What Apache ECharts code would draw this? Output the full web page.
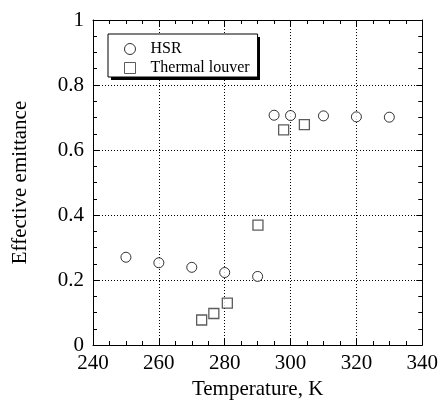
<!DOCTYPE html>
<html>
<head>
<meta charset="utf-8">
<script src="https://cdn.jsdelivr.net/npm/echarts@6/dist/echarts.min.js"></script>
<style>
	html, body { margin: 0; padding: 0; background: #fff; }
	#chart { width: 441px; height: 405px; }
</style>
</head>
<body>
<div id="chart"></div>
<script>
// data
const hsrTemp = [250, 260, 270, 280, 290, 295, 300, 310, 320, 330]
const hsrEmit = [0.270, 0.253, 0.239, 0.223, 0.211, 0.707, 0.706, 0.705, 0.702, 0.701]
const louverTemp = [273, 276.7, 280.8, 290.1, 297.9, 304.2]
const louverEmit = [0.077, 0.097, 0.129, 0.369, 0.662, 0.678]

const font = 'Liberation Serif'
const pair = (xs, ys) => xs.map((x, i) => [x, ys[i]])

const chart = echarts.init(document.getElementById('chart'))

// shared axis look (box with inward ticks on all sides)
const tickStyle = {
	axisLine: { show: true, onZero: false, lineStyle: { color: '#000', width: 1 } },
	axisTick: { show: true, inside: true, length: 6, lineStyle: { color: '#000' } },
	minorTick: { show: true, splitNumber: 4, length: 4, lineStyle: { color: '#000' } },
}

const option = {
	backgroundColor: '#fff',
	animation: false,
	grid: { left: 93, right: 18, top: 20, bottom: 58 },
	// drop shadow behind the legend box
	graphic: [
		{
			type: 'rect',
			left: 111,
			top: 37,
			shape: { width: 149, height: 43 },
			style: { fill: '#000' },
			z: 3,
		},
	],
	legend: {
		orient: 'vertical',
		left: 108,
		top: 34,
		padding: [7, 8, 1, 16],
		itemWidth: 11,
		itemHeight: 11,
		itemGap: 3,
		backgroundColor: '#fff',
		borderColor: '#000',
		borderWidth: 1,
		z: 5,
		itemStyle: { borderWidth: 1 },
		textStyle: { fontFamily: font, fontSize: 16, lineHeight: 16, color: '#000', padding: [0, 0, 0, 10] },
		data: ['HSR', 'Thermal louver'],
	},
	xAxis: [
		{
			type: 'value',
			min: 240,
			max: 340,
			interval: 20,
			name: 'Temperature, K',
			nameLocation: 'middle',
			nameGap: 34,
			nameTextStyle: { fontFamily: font, fontSize: 21, color: '#000' },
			axisLabel: { fontFamily: font, fontSize: 21, color: '#000', margin: 8 },
			splitLine: { show: true, lineStyle: { color: '#000', type: [1, 2], width: 1 } },
			...tickStyle,
		},
		{
			type: 'value',
			position: 'top',
			min: 240,
			max: 340,
			interval: 20,
			axisLabel: { show: false },
			splitLine: { show: false },
			...tickStyle,
		},
	],
	yAxis: [
		{
			type: 'value',
			min: 0,
			max: 1,
			interval: 0.2,
			name: 'Effective emittance',
			nameLocation: 'middle',
			nameGap: 62,
			nameTextStyle: { fontFamily: font, fontSize: 21, color: '#000' },
			axisLabel: { fontFamily: font, fontSize: 21, color: '#000', margin: 9 },
			splitLine: { show: true, lineStyle: { color: '#000', type: [1, 2], width: 1 } },
			...tickStyle,
		},
		{
			type: 'value',
			position: 'right',
			min: 0,
			max: 1,
			interval: 0.2,
			axisLabel: { show: false },
			splitLine: { show: false },
			...tickStyle,
		},
	],
	series: [
		{
			name: 'HSR',
			type: 'scatter',
			symbol: 'circle',
			symbolSize: 10,
			itemStyle: { color: '#fff', borderColor: '#000', borderWidth: 1 },
			data: pair(hsrTemp, hsrEmit),
		},
		{
			name: 'Thermal louver',
			type: 'scatter',
			symbol: 'rect',
			symbolSize: 10,
			itemStyle: { color: '#fff', borderColor: '#333', borderWidth: 1.3 },
			data: pair(louverTemp, louverEmit),
		},
	],
}
chart.setOption(option)
</script>
</body>
</html>
